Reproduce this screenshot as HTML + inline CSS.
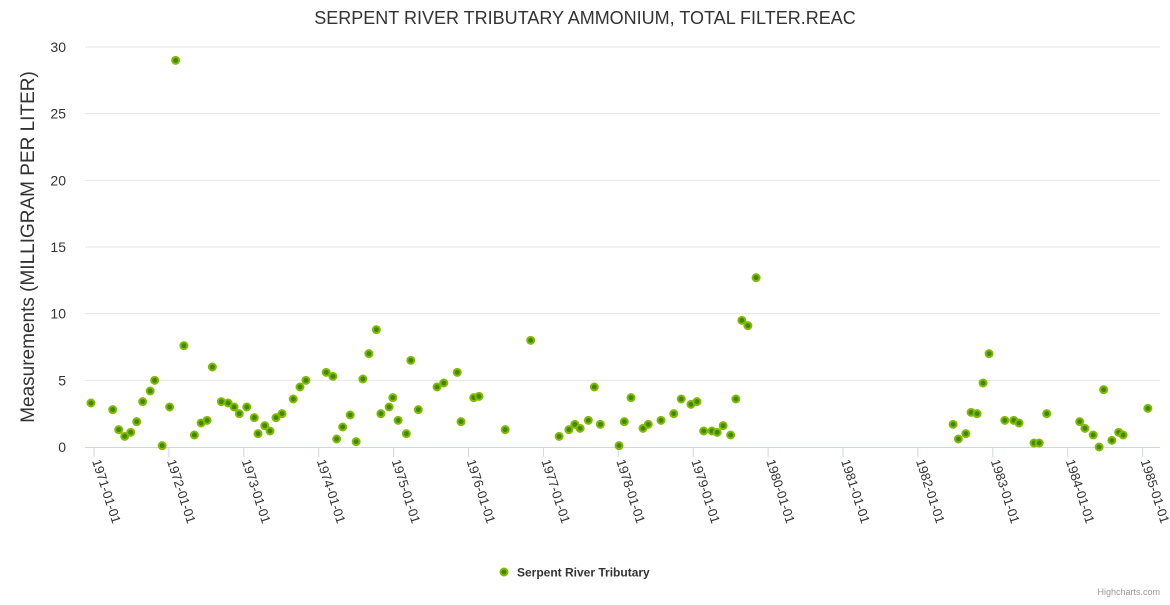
<!DOCTYPE html>
<html><head><meta charset="utf-8"><style>
body{margin:0;background:#fff;font-family:"Liberation Sans","DejaVu Sans",sans-serif}
svg text{font-family:"Liberation Sans","DejaVu Sans",sans-serif}
</style></head><body>
<svg id="chart" width="1170" height="600" xmlns="http://www.w3.org/2000/svg">
<rect width="1170" height="600" fill="#fff"/>
<text x="585" y="24" text-anchor="middle" font-size="18" fill="#333">SERPENT RIVER TRIBUTARY AMMONIUM, TOTAL FILTER.REAC</text>
<text transform="translate(34,247) rotate(-90)" text-anchor="middle" font-size="19" fill="#333">Measurements (MILLIGRAM PER LITER)</text>
<g id="grid"></g><g id="xaxis"></g><g id="pts"></g>
<g>
<circle cx="504" cy="572" r="3.5" fill="#3f8a00" stroke="#84bb00" stroke-width="2"/>
<text x="517" y="576.5" font-size="12" font-weight="bold" fill="#333">Serpent River Tributary</text>
</g>
<text x="1160" y="595" text-anchor="end" font-size="9" fill="#999">Highcharts.com</text>
</svg>
<script>
const years=[1970.96,1971.25,1971.33,1971.41,1971.49,1971.57,1971.65,1971.75,1971.81,1971.91,1972.01,1972.09,1972.20,1972.34,1972.43,1972.51,1972.58,1972.70,1972.79,1972.87,1972.94,1973.04,1973.14,1973.19,1973.28,1973.35,1973.43,1973.51,1973.66,1973.75,1973.83,1974.10,1974.19,1974.24,1974.32,1974.42,1974.50,1974.59,1974.67,1974.77,1974.83,1974.94,1974.99,1975.06,1975.17,1975.23,1975.33,1975.58,1975.67,1975.85,1975.90,1976.07,1976.14,1976.49,1976.83,1977.21,1977.34,1977.42,1977.49,1977.60,1977.68,1977.76,1978.01,1978.08,1978.17,1978.33,1978.40,1978.57,1978.74,1978.84,1978.97,1979.05,1979.14,1979.25,1979.32,1979.40,1979.50,1979.57,1979.65,1979.73,1979.84,1982.47,1982.54,1982.64,1982.71,1982.79,1982.87,1982.95,1983.16,1983.28,1983.35,1983.55,1983.62,1983.72,1984.16,1984.23,1984.34,1984.42,1984.48,1984.59,1984.68,1984.74,1985.07];
const values=[3.3,2.8,1.3,0.8,1.1,1.9,3.4,4.2,5.0,0.1,3.0,29,7.6,0.9,1.8,2.0,6.0,3.4,3.3,3.0,2.5,3.0,2.2,1.0,1.6,1.2,2.2,2.5,3.6,4.5,5.0,5.6,5.3,0.6,1.5,2.4,0.4,5.1,7.0,8.8,2.5,3.0,3.7,2.0,1.0,6.5,2.8,4.5,4.8,5.6,1.9,3.7,3.8,1.3,8.0,0.8,1.3,1.7,1.4,2.0,4.5,1.7,0.1,1.9,3.7,1.4,1.7,2.0,2.5,3.6,3.2,3.4,1.2,1.2,1.1,1.6,0.9,3.6,9.5,9.1,12.7,1.7,0.6,1.0,2.6,2.5,4.8,7.0,2.0,2.0,1.8,0.3,0.3,2.5,1.9,1.4,0.9,0.0,4.3,0.5,1.1,0.9,2.9];
const yTicks=[0,5,10,15,20,25,30];
const xTicks=[1971,1972,1973,1974,1975,1976,1977,1978,1979,1980,1981,1982,1983,1984,1985];
const NS='http://www.w3.org/2000/svg';
const X0=85,X1=1160,Y0=447,Y1=47;
function xs(t){return 94+(t-1971)*74.9;}
function ys(v){return Y0-(v/30)*(Y0-Y1);}
function mk(tag,attrs,parent){const e=document.createElementNS(NS,tag);for(const k in attrs)e.setAttribute(k,attrs[k]);parent.appendChild(e);return e;}
const grid=document.getElementById('grid'),xa=document.getElementById('xaxis'),pts=document.getElementById('pts');
yTicks.forEach(v=>{
  if(v>0){const l=mk('line',{x1:X0,x2:X1,y1:ys(v),y2:ys(v),stroke:'#e6e6e6','stroke-width':1},grid);
  
  }
  const t=mk('text',{x:66,y:ys(v)+5,'text-anchor':'end','font-size':14,fill:'#333'},grid);
  t.textContent=v;
  
  
});
const ax=mk('line',{x1:X0,x2:X1,y1:Y0+0.5,y2:Y0+0.5,stroke:'#ccd6eb','stroke-width':1},xa);


xTicks.forEach(y=>{
  const x=xs(y);
  const tk=mk('line',{x1:x,x2:x,y1:Y0,y2:Y0+10,stroke:'#ccd6eb','stroke-width':1},xa);
  
  
  const t=mk('text',{transform:`translate(${x-2},${Y0+14}) rotate(72)`,'font-size':13,fill:'#333'},xa);
  t.textContent=y+'-01-01';
  
  
});
years.forEach((t,i)=>{
  const c=mk('circle',{cx:xs(t),cy:ys(values[i]),r:3.5,fill:'#3f8a00',stroke:'#84bb00','stroke-width':2},pts);
  
  
});
</script>
</body></html>
